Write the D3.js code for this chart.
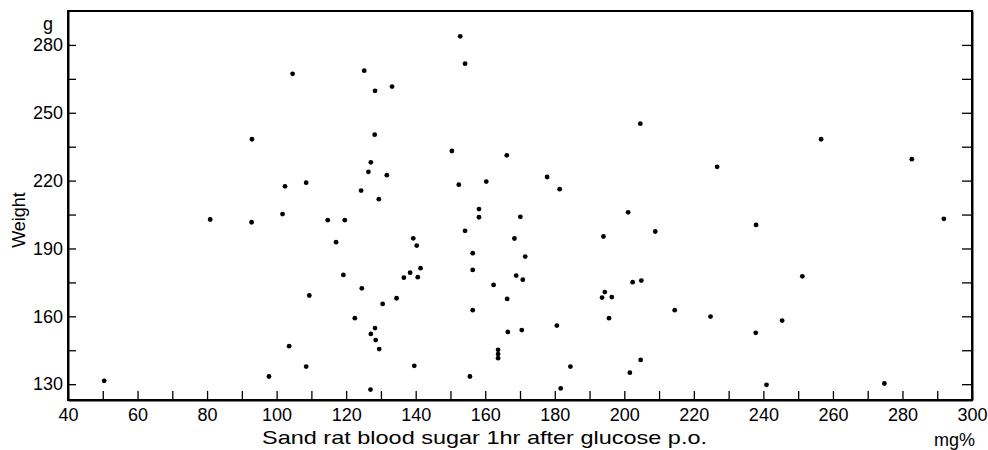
<!DOCTYPE html>
<html>
<head>
<meta charset="utf-8">
<script src="https://cdn.jsdelivr.net/npm/d3@7"></script>
<style>
  html, body { margin: 0; padding: 0; background: #fff; }
  svg { display: block; }
  text { font-family: "Liberation Sans", Arial, sans-serif; fill: #000; }
</style>
</head>
<body>
<svg id="chart" width="988" height="450"></svg>
<script>
// Blood sugar 1 hr after glucose p.o. (mg%)
const bloodSugar = [
  50.4, 80.9, 92.9, 92.8, 101.7, 102.4, 104.6, 108.5, 97.8, 103.6,
  108.5, 109.4, 114.7, 119.6, 117.1, 119.2, 122.5, 124.5, 124.3, 125.2,
  126.4, 127.1, 128.2, 128.3, 127.0, 128.3, 127.1, 128.5, 129.5, 129.4,
  131.7, 130.5, 133.2, 134.5, 136.6, 138.4, 139.3, 140.3, 140.6, 141.4,
  139.6, 150.4, 152.4, 152.8, 154.2, 154.2, 156.4, 156.4, 156.4, 155.6,
  158.2, 158.2, 160.3, 162.4, 163.7, 163.7, 163.7, 166.2, 166.3, 166.5,
  168.4, 170.1, 168.9, 170.8, 171.5, 170.5, 177.8, 181.4, 180.6, 181.7,
  184.5, 194.0, 193.6, 194.4, 196.4, 195.6, 201.1, 201.6, 202.4, 204.6,
  204.9, 204.7, 208.9, 214.5, 224.8, 226.7, 237.9, 237.8, 240.9, 245.4,
  251.2, 256.6, 274.8, 282.7, 291.9
];
// Weight (g)
const weight = [
  131.5, 202.8, 238.3, 201.6, 205.2, 217.5, 267.2, 219.1, 133.4, 146.8,
  137.8, 169.2, 202.5, 202.5, 192.8, 178.3, 159.2, 172.4, 215.6, 268.6,
  223.9, 228.1, 240.3, 259.7, 127.6, 154.8, 152.2, 149.5, 145.5, 211.8,
  222.4, 165.5, 261.6, 168.0, 177.1, 179.3, 194.5, 191.3, 177.3, 181.3,
  138.1, 233.1, 218.2, 283.8, 271.7, 197.8, 187.9, 180.5, 162.7, 133.4,
  207.4, 203.8, 219.6, 173.9, 145.2, 143.3, 141.5, 231.2, 167.7, 153.1,
  194.4, 204.0, 178.0, 176.2, 186.4, 153.9, 221.6, 216.2, 155.9, 128.1,
  137.8, 195.3, 168.3, 170.7, 168.5, 159.2, 206.0, 135.1, 175.1, 245.2,
  175.8, 140.7, 197.5, 162.7, 159.9, 226.1, 200.4, 152.7, 129.7, 158.1,
  177.7, 238.3, 130.3, 229.5, 203.1
];
const xTicks = d3.range(40, 301, 10);
const xLabelTicks = d3.range(40, 301, 20);
const yTicks = d3.range(130, 281, 15);
const yLabelTicks = [130, 160, 190, 220, 250, 280];

const svg = d3.select("#chart");
const mLeft = 68, mRight = 972, mTop = 11, mBottom = 400;

const x = d3.scaleLinear().domain([40, 300]).range([mLeft, mRight]);
const y = d3.scaleLinear().domain([123, 295]).range([mBottom, mTop]);

// frame
svg.append("rect")
  .attr("x", mLeft).attr("y", mTop)
  .attr("width", mRight - mLeft).attr("height", mBottom - mTop)
  .attr("fill", "none").attr("stroke", "#000").attr("stroke-width", 2);

// x axis
const xAxis = svg.append("g")
  .attr("transform", `translate(0,${mBottom})`)
  .call(d3.axisBottom(x).tickValues(xTicks).tickSizeInner(-9).tickSizeOuter(0).tickPadding(8)
    .tickFormat(d => xLabelTicks.includes(d) ? d : ""));
xAxis.select(".domain").attr("stroke-width", 2);
xAxis.selectAll(".tick line").attr("stroke-width", 1.3);
xAxis.selectAll("text").attr("font-size", 18).attr("font-family", "Liberation Sans, Arial, sans-serif");

// left y axis
const yAxis = svg.append("g")
  .attr("transform", `translate(${mLeft},0)`)
  .call(d3.axisLeft(y).tickValues(yTicks).tickSizeInner(-8).tickSizeOuter(0).tickPadding(5)
    .tickFormat(d => yLabelTicks.includes(d) ? d : ""));
yAxis.select(".domain").attr("stroke-width", 2);
yAxis.selectAll(".tick line").attr("stroke-width", 1.3);
yAxis.selectAll("text").attr("font-size", 18).attr("font-family", "Liberation Sans, Arial, sans-serif");

// right y axis
const yAxisR = svg.append("g")
  .attr("transform", `translate(${mRight},0)`)
  .call(d3.axisRight(y).tickValues(yTicks).tickSizeInner(-10).tickSizeOuter(0).tickFormat(""));
yAxisR.select(".domain").attr("stroke-width", 2);
yAxisR.selectAll(".tick line").attr("stroke-width", 1.3);

// points
svg.append("g").selectAll("circle")
  .data(bloodSugar.map((v, i) => [v, weight[i]]))
  .join("circle")
  .attr("cx", d => x(d[0]))
  .attr("cy", d => y(d[1]))
  .attr("r", 2.4)
  .attr("fill", "#000");

// labels
svg.append("text").attr("x", 48).attr("y", 30).attr("text-anchor", "middle")
  .attr("font-size", 18).text("g");
svg.append("text")
  .attr("transform", "translate(25,220) rotate(-90)")
  .attr("text-anchor", "middle").attr("font-size", 18).text("Weight");
svg.append("text").attr("x", 262).attr("y", 444)
  .attr("font-size", 19).attr("textLength", 445).attr("lengthAdjust", "spacingAndGlyphs")
  .text("Sand rat blood sugar 1hr after glucose p.o.");
svg.append("text").attr("x", 975).attr("y", 446).attr("text-anchor", "end")
  .attr("font-size", 18).text("mg%");
</script>
</body>
</html>
